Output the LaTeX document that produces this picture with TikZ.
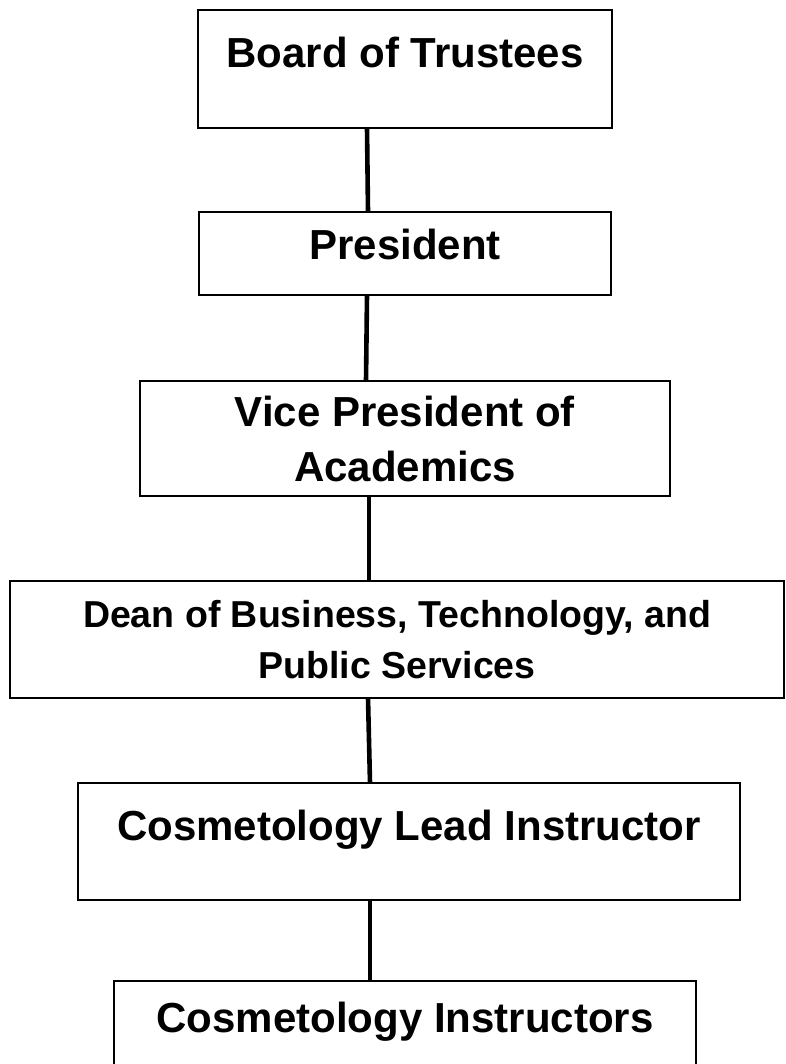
\documentclass[tikz,border=0pt]{standalone}
\usepackage{fontspec}
\setmainfont{Liberation Sans}
\usetikzlibrary{positioning}

\begin{document}
\begin{tikzpicture}[
  box/.style={draw, line width=2pt, inner sep=0pt, outer sep=0pt, align=center, font=\bfseries\fontsize{42}{55}\selectfont},
  link/.style={line width=4.6pt},
]
\useasboundingbox (0,0) rectangle (785pt,-1064pt);
\clip (0,0) rectangle (785pt,-1064pt);

\node[box, minimum width=414pt, text height=58pt, text depth=60pt, anchor=north] (board) at (405pt,-10pt) {Board of Trustees};
\node[box, minimum width=412pt, text height=48pt, text depth=35pt, below=84pt of board] (pres) {President};
\node[box, minimum width=530pt, minimum height=115pt, below=86pt of pres] (vp) {Vice President of\\Academics};
\node[box, minimum width=774pt, minimum height=117pt, below=85pt of vp, xshift=-8pt, font=\bfseries\fontsize{37.5}{51}\selectfont] (dean) {Dean of Business, Technology, and\\Public Services};
\node[box, minimum width=662pt, text height=57pt, text depth=60pt, below=85pt of dean, xshift=12pt] (lead) {Cosmetology Lead Instructor};
\node[box, minimum width=582pt, text height=51pt, text depth=60pt, below=81pt of lead, xshift=-4pt] (staff) {Cosmetology Instructors};

\draw[link] ([xshift=-38pt]board.south) -- ([xshift=-37pt]pres.north);
\draw[link] ([xshift=-38pt]pres.south) -- ([xshift=-39pt]vp.north);
\draw[link] ([xshift=-36pt]vp.south) -- ([xshift=-28pt]dean.north);
\draw[link] ([xshift=-29pt]dean.south) -- ([xshift=-39pt]lead.north);
\draw[link] ([xshift=-39pt]lead.south) -- ([xshift=-35pt]staff.north);

\end{tikzpicture}
\end{document}
